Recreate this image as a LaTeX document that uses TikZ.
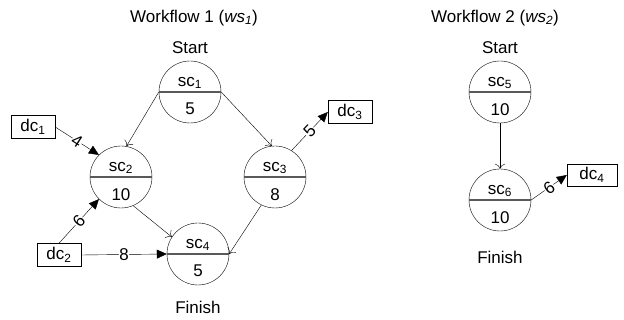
\documentclass[tikz,border=0pt]{standalone}
\usepackage{fontspec}
\setmainfont{Liberation Sans}
\usetikzlibrary{arrows.meta, positioning, shapes.multipart}
% push the cost a little further down in the lower half
\newcommand{\lowpart}[1]{\raisebox{-8pt}[\height]{#1}}

\begin{document}
\begin{tikzpicture}[x=1pt, y=-1pt, node distance=4pt,
    every node/.style={font=\fontsize{17}{20}\selectfont},
    svc/.style={draw, circle split, minimum size=62pt, inner sep=3pt},
    dat/.style={draw, minimum width=44pt, minimum height=23pt, inner sep=1pt},
    divider/.style={draw=black!65, line width=1.3pt},
    flow/.style={-{To[length=5pt,width=10pt]}},
    feed/.style={-{Triangle[length=10pt,width=9pt]}},
    wt/.style={fill=white, inner sep=0.5pt, sloped}]
    \useasboundingbox (0,0) rectangle (624,320);

    % workflow 1
    \node (t1) at (194,18) {Workflow 1 (\textit{ws}\textsubscript{\textit{1}})};
    \node[svc] (sc1) at (190,92) {sc\textsubscript{1} \nodepart{lower} \lowpart{5}};
    \node[svc] (sc2) at (121,177) {sc\textsubscript{2} \nodepart{lower} \lowpart{10}};
    \node[svc] (sc3) at (275,177) {sc\textsubscript{3} \nodepart{lower} \lowpart{8}};
    \node[svc] (sc4) at (198,254) {sc\textsubscript{4} \nodepart{lower} \lowpart{5}};
    \node[above=of sc1] (s1) {Start};
    \node[below=12pt of sc4] (f1) {Finish};
    \node[dat] (dc1) at (33,127) {dc\textsubscript{1}};
    \node[dat] (dc2) at (59,255) {dc\textsubscript{2}};
    \node[dat] (dc3) at (350,112) {dc\textsubscript{3}};

    \draw[flow] (sc1.west) -- (sc2.80);
    \draw[flow] (sc1.east) -- (sc3.96);
    \draw[flow] (sc2.-67) -- (sc4.147);
    \draw[flow] (sc3.-116) -- (sc4.east);
    \draw[feed] (dc1.east) -- node[wt] {4} (sc2.135);
    \draw[feed] (dc2.north) -- node[wt] {6} (sc2.225);
    \draw[feed] (dc2.east) -- node[wt] {8} (sc4.west);
    \draw[feed] (sc3.58) -- node[wt] {5} (dc3.west);

    % workflow 2
    \node (t2) at (495,18) {Workflow 2 (\textit{ws}\textsubscript{\textit{2}})};
    \node[svc] (sc5) at (500,92) {sc\textsubscript{5} \nodepart{lower} \lowpart{10}};
    \node[svc] (sc6) at (500,200) {sc\textsubscript{6} \nodepart{lower} \lowpart{10}};
    \node[above=of sc5] (s2) {Start};
    \node[below=16pt of sc6] (f2) {Finish};
    \node[dat, minimum width=50pt, minimum height=22pt] (dc4) at (592,175) {dc\textsubscript{4}};

    \draw[flow] (sc5.south) -- (sc6.north);
    \draw[feed] (sc6.east) -- node[wt] {6} (dc4.west);

    % heavier split line inside every service circle
    \foreach \n in {sc1,sc2,sc3,sc4,sc5,sc6}
        \draw[divider] (\n.west) -- (\n.east);
\end{tikzpicture}
\end{document}
